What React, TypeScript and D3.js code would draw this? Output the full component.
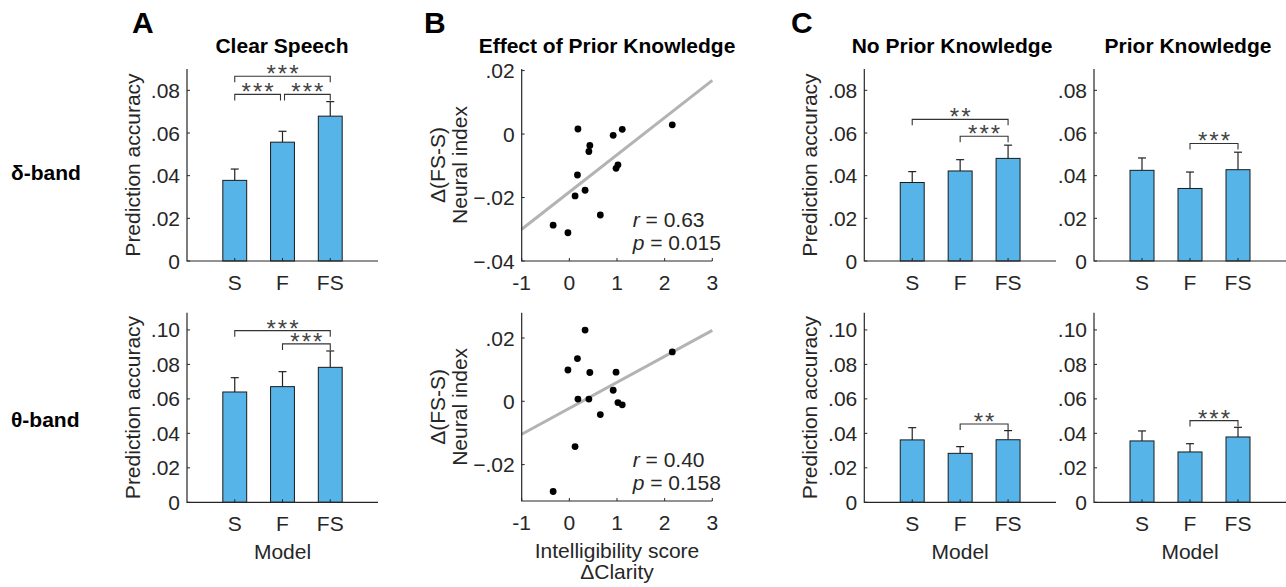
import * as d3 from 'd3'
import { useEffect, useRef } from 'react'

// ---- data ----
const models = ['S', 'F', 'FS']

// prediction accuracy (bar height) and upper error per model
const clearDeltaMean = [0.0378, 0.0557, 0.0679]
const clearDeltaErr = [0.0053, 0.0051, 0.0068]
const clearThetaMean = [0.064, 0.0671, 0.0783]
const clearThetaErr = [0.0083, 0.0087, 0.0095]
const noPriorDeltaMean = [0.0368, 0.0422, 0.0481]
const noPriorDeltaErr = [0.0051, 0.0053, 0.0062]
const priorDeltaMean = [0.0425, 0.034, 0.0428]
const priorDeltaErr = [0.0058, 0.0077, 0.0082]
const noPriorThetaMean = [0.0362, 0.0284, 0.0363]
const noPriorThetaErr = [0.0071, 0.0039, 0.0053]
const priorThetaMean = [0.0356, 0.0292, 0.0379]
const priorThetaErr = [0.0058, 0.0048, 0.0056]

// significance brackets: from, to, height, stars
type Bracket = [string, string, number, string]
const clearDeltaSig: Bracket[] = [
  ['S', 'FS', 0.0866, '***'],
  ['S', 'F', 0.0781, '***'],
  ['F', 'FS', 0.0781, '***'],
]
const clearThetaSig: Bracket[] = [
  ['S', 'FS', 0.0996, '***'],
  ['F', 'FS', 0.0919, '***'],
]
const noPriorDeltaSig: Bracket[] = [
  ['S', 'FS', 0.0664, '**'],
  ['F', 'FS', 0.0585, '***'],
]
const priorDeltaSig: Bracket[] = [['F', 'FS', 0.0551, '***']]
const noPriorThetaSig: Bracket[] = [['F', 'FS', 0.0454, '**']]
const priorThetaSig: Bracket[] = [['F', 'FS', 0.0474, '***']]

const deltaTicks = [0, 0.02, 0.04, 0.06, 0.08]
const thetaTicks = [0, 0.02, 0.04, 0.06, 0.08, 0.1]

// panel B: intelligibility score vs neural index
const clarityScore = [-0.34, -0.03, 0.12, 0.17, 0.18, 0.33, 0.41, 0.43, 0.65, 0.92, 0.98, 1.02, 1.11, 2.16]
const neuralDelta = [-0.0287, -0.0311, -0.0195, -0.0129, 0.0016, -0.0177, -0.0055, -0.0036, -0.0255, -0.0004, -0.0108, -0.0097, 0.0015, 0.0029]
const neuralTheta = [-0.0285, 0.0099, -0.0143, 0.0135, 0.0007, 0.0225, 0.0007, 0.0091, -0.0042, 0.0035, 0.0092, -0.0004, -0.0011, 0.0156]
const fitEnds = [-1, 3]
const fitDelta = [-0.03, 0.0169]
const fitTheta = [-0.0104, 0.0224]
const statsDelta = ['0.63', '0.015']
const statsTheta = ['0.40', '0.158']
const clarityTicks = [-1, 0, 1, 2, 3]
const neuralDeltaTicks = [-0.04, -0.02, 0, 0.02]
const neuralThetaTicks = [-0.02, 0, 0.02]

// ---- styles ----
const FONT = '"Liberation Sans", Arial, Helvetica, sans-serif'
const AXIS = '#262626'
const BAR = '#56B4E9'
const FS = 21

type Box = { x0: number; x1: number; top: number; bottom: number }

const fmt = (v: number) => (v === 0 ? '0' : d3.format('.2f')(v).replace('0.', '.'))

const App = () => {
  const svgRef = useRef<SVGSVGElement>(null)

  useEffect(() => {
    const svg = d3.select(svgRef.current)
    svg.selectAll('*').remove()
    svg.style('font-family', FONT)

    const yLabel = (text: string, x: number, y: number) => {
      svg
        .append('text')
        .attr('transform', `translate(${x},${y}) rotate(-90)`)
        .attr('text-anchor', 'middle')
        .attr('fill', AXIS)
        .style('font-size', `${FS}px`)
        .text(text)
    }

    const drawBars = (
      box: Box,
      maxY: number,
      ticks: number[],
      mean: number[],
      err: number[],
      sig: Bracket[],
      ylab: boolean,
      xlab: boolean
    ) => {
      const x = d3.scaleLinear().domain([0, 4]).range([box.x0, box.x1])
      const y = d3.scaleLinear().domain([0, maxY]).range([box.bottom, box.top])
      const xi = (m: string) => x(models.indexOf(m) + 1)
      const g = svg.append('g')

      // error bars (only the upper half shows above the bar)
      mean.forEach((m, i) => {
        const cx = x(i + 1)
        g.append('line')
          .attr('x1', cx).attr('x2', cx)
          .attr('y1', y(m)).attr('y2', y(m + err[i]))
          .attr('stroke', '#222').attr('stroke-width', 1.2)
        g.append('line')
          .attr('x1', cx - 4).attr('x2', cx + 4)
          .attr('y1', y(m + err[i])).attr('y2', y(m + err[i]))
          .attr('stroke', '#222').attr('stroke-width', 1.2)
      })

      // bars
      g.selectAll('rect.bar')
        .data(mean)
        .enter()
        .append('rect')
        .attr('x', (_, i) => x(i + 0.75))
        .attr('width', x(0.5) - x(0))
        .attr('y', (d) => y(d))
        .attr('height', (d) => y(0) - y(d))
        .attr('fill', BAR)
        .attr('stroke', '#1a1a1a')
        .attr('stroke-width', 1)

      // brackets
      sig.forEach(([a, b, h, stars]) => {
        // leave a small gap where two brackets at the same height meet
        const shared = (m: string) =>
          sig.some((s) => s[2] === h && ((s[0] === m && m !== a) || (s[1] === m && m !== b)))
        const xa = xi(a) + (shared(a) ? 2 : 0)
        const xb = xi(b) - (shared(b) ? 2 : 0)
        const yy = y(h)
        g.append('path')
          .attr('d', `M${xa},${yy + 6}V${yy}H${xb}V${yy + 6}`)
          .attr('fill', 'none')
          .attr('stroke', '#333')
          .attr('stroke-width', 1.1)
        g.append('text')
          .attr('x', (xa + xb) / 2 + 1)
          .attr('y', yy + 6)
          .attr('text-anchor', 'middle')
          .attr('fill', '#444')
          .style('font-size', '24px')
          .style('letter-spacing', '2px')
          .text(stars)
      })

      // axes
      g.append('path')
        .attr('d', `M${box.x0},${box.top}V${box.bottom}H${box.x1}`)
        .attr('fill', 'none')
        .attr('stroke', AXIS)
        .attr('stroke-width', 1.2)
      ticks.forEach((t) => {
        g.append('line')
          .attr('x1', box.x0).attr('x2', box.x0 + 3)
          .attr('y1', y(t)).attr('y2', y(t))
          .attr('stroke', AXIS)
        g.append('text')
          .attr('x', box.x0 - 7)
          .attr('y', y(t))
          .attr('dy', '0.36em')
          .attr('text-anchor', 'end')
          .attr('fill', AXIS)
          .style('font-size', `${FS}px`)
          .text(fmt(t))
      })
      models.forEach((m, i) => {
        g.append('line')
          .attr('x1', x(i + 1)).attr('x2', x(i + 1))
          .attr('y1', box.bottom).attr('y2', box.bottom - 3)
          .attr('stroke', AXIS)
        g.append('text')
          .attr('x', x(i + 1))
          .attr('y', box.bottom + 29)
          .attr('text-anchor', 'middle')
          .attr('fill', AXIS)
          .style('font-size', `${FS}px`)
          .text(m)
      })
      if (ylab) yLabel('Prediction accuracy', box.x0 - 47, (box.top + box.bottom) / 2)
      if (xlab)
        g.append('text')
          .attr('x', x(2))
          .attr('y', box.bottom + 57)
          .attr('text-anchor', 'middle')
          .attr('fill', AXIS)
          .style('font-size', `${FS}px`)
          .text('Model')
    }

    const drawScatter = (
      box: Box,
      yDomain: number[],
      ticks: number[],
      values: number[],
      fit: number[],
      stats: string[],
      xlab: boolean
    ) => {
      const x = d3.scaleLinear().domain([-1, 3]).range([box.x0, box.x1])
      const y = d3.scaleLinear().domain(yDomain).range([box.bottom, box.top])
      const g = svg.append('g')

      g.append('line')
        .attr('x1', x(fitEnds[0])).attr('x2', x(fitEnds[1]))
        .attr('y1', y(fit[0])).attr('y2', y(fit[1]))
        .attr('stroke', '#b3b3b3')
        .attr('stroke-width', 3)

      g.selectAll('circle')
        .data(values)
        .enter()
        .append('circle')
        .attr('cx', (_, i) => x(clarityScore[i]))
        .attr('cy', (d) => y(d))
        .attr('r', 3.4)
        .attr('fill', '#000')

      g.append('path')
        .attr('d', `M${box.x0},${box.top}V${box.bottom}H${box.x1}`)
        .attr('fill', 'none')
        .attr('stroke', AXIS)
        .attr('stroke-width', 1.2)
      ticks.forEach((t) => {
        g.append('line')
          .attr('x1', box.x0).attr('x2', box.x0 + 3)
          .attr('y1', y(t)).attr('y2', y(t))
          .attr('stroke', AXIS)
        g.append('text')
          .attr('x', box.x0 - 7)
          .attr('y', y(t))
          .attr('dy', '0.36em')
          .attr('text-anchor', 'end')
          .attr('fill', AXIS)
          .style('font-size', `${FS}px`)
          .text(fmt(t))
      })
      clarityTicks.forEach((t) => {
        g.append('line')
          .attr('x1', x(t)).attr('x2', x(t))
          .attr('y1', box.bottom).attr('y2', box.bottom - 3)
          .attr('stroke', AXIS)
        g.append('text')
          .attr('x', x(t))
          .attr('y', box.bottom + 29)
          .attr('text-anchor', 'middle')
          .attr('fill', AXIS)
          .style('font-size', `${FS}px`)
          .text(t)
      })

      // r / p annotation
      const labels = [['r', stats[0]], ['p', stats[1]]]
      labels.forEach(([k, v], i) => {
        const t = g.append('text')
          .attr('x', x(1.33))
          .attr('y', box.bottom - 34 + i * 23)
          .attr('fill', AXIS)
          .style('font-size', `${FS}px`)
        t.append('tspan').style('font-style', 'italic').text(k)
        t.append('tspan').text(` = ${v}`)
      })

      const cy = (box.top + box.bottom) / 2
      yLabel('\u0394(FS-S)', box.x0 - 77, cy)
      yLabel('Neural index', box.x0 - 55, cy)
      if (xlab) {
        g.append('text')
          .attr('x', x(1))
          .attr('y', box.bottom + 57)
          .attr('text-anchor', 'middle')
          .attr('fill', AXIS)
          .style('font-size', `${FS}px`)
          .text('Intelligibility score')
        g.append('text')
          .attr('x', x(1))
          .attr('y', box.bottom + 78)
          .attr('text-anchor', 'middle')
          .attr('fill', AXIS)
          .style('font-size', `${FS}px`)
          .text('\u0394Clarity')
      }
    }

    const topRow = { top: 69, bottom: 261 }
    const botRow = { top: 312.7, bottom: 502.3 }
    const colA = { x0: 187, x1: 378 }
    const colB = { x0: 521.7, x1: 712.3 }
    const colC1 = { x0: 864.3, x1: 1056 }
    const colC2 = { x0: 1094, x1: 1286 }

    drawBars({ ...colA, ...topRow }, 0.09, deltaTicks, clearDeltaMean, clearDeltaErr, clearDeltaSig, true, false)
    drawBars({ ...colA, ...botRow }, 0.11, thetaTicks, clearThetaMean, clearThetaErr, clearThetaSig, true, true)
    drawScatter({ ...colB, ...topRow }, [-0.04, 0.0205], neuralDeltaTicks, neuralDelta, fitDelta, statsDelta, false)
    drawScatter({ ...colB, top: 312.7, bottom: 501 }, [-0.0315, 0.028], neuralThetaTicks, neuralTheta, fitTheta, statsTheta, true)
    drawBars({ ...colC1, ...topRow }, 0.09, deltaTicks, noPriorDeltaMean, noPriorDeltaErr, noPriorDeltaSig, true, false)
    drawBars({ ...colC2, ...topRow }, 0.09, deltaTicks, priorDeltaMean, priorDeltaErr, priorDeltaSig, false, false)
    drawBars({ ...colC1, ...botRow }, 0.11, thetaTicks, noPriorThetaMean, noPriorThetaErr, noPriorThetaSig, true, true)
    drawBars({ ...colC2, ...botRow }, 0.11, thetaTicks, priorThetaMean, priorThetaErr, priorThetaSig, false, true)

    // titles
    const titles: [string, number][] = [
      ['Clear Speech', 282],
      ['Effect of Prior Knowledge', 607],
      ['No Prior Knowledge', 952],
      ['Prior Knowledge', 1188],
    ]
    titles.forEach(([t, cx]) => {
      svg.append('text')
        .attr('x', cx).attr('y', 53)
        .attr('text-anchor', 'middle')
        .style('font-size', '21px')
        .style('font-weight', 'bold')
        .text(t)
    })

    // panel letters
    const letters: [string, number][] = [['A', 132], ['B', 424], ['C', 791]]
    letters.forEach(([t, lx]) => {
      svg.append('text')
        .attr('x', lx).attr('y', 33)
        .style('font-size', '30px')
        .style('font-weight', 'bold')
        .text(t)
    })

    // band labels
    const bands: [string, number][] = [['\u03b4-band', 180], ['\u03b8-band', 427]]
    bands.forEach(([t, by]) => {
      svg.append('text')
        .attr('x', 11).attr('y', by)
        .style('font-size', '21px')
        .style('font-weight', 'bold')
        .text(t)
    })
  }, [])

  return (
    <div style={{ position: 'absolute', left: 0, top: 0 }}>
      <svg ref={svgRef} width={1286} height={587} style={{ display: 'block', background: '#fff' }} />
    </div>
  )
}

export default App
